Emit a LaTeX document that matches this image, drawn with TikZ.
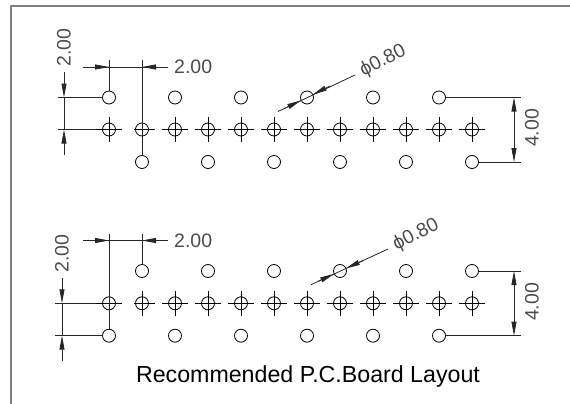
\documentclass[tikz,border=0pt]{standalone}
\usepackage{fontspec}
\setmainfont{Liberation Sans}
\usetikzlibrary{arrows.meta}
\begin{document}
\begin{tikzpicture}[x=1pt,y=-1pt,>={Stealth[length=14pt,width=5pt,inset=0pt]},line join=round,
	hole/.style={line width=0.8pt},
	dim/.style={line width=0.8pt,black!85},
	dimtext/.style={font=\fontsize{19.5}{20}\selectfont,inner sep=0pt,black!70}]
	\useasboundingbox (0,0) rectangle (570,404);
	\draw[line width=2pt,black!50] (570,6.5)--(11,6.5)--(11,404);
	% Upper layout
	\def\ya{97.5} \def\yb{129.5} \def\yc{162}
	\foreach \x in {109,175,241,307,373,439} \draw[hole] (\x,\ya) circle (6.5);
	\foreach \x in {142,208,274,340,406,472} \draw[hole] (\x,\yc) circle (6.5);
	\foreach \x in {109,142,...,472} {
		\draw[hole] (\x,\yb) circle (6.5);
		\draw[hole] (\x,\yb-12.5)--(\x,\yb+12.5);
		\draw[hole] (\x-13,\yb)--(\x+13,\yb);
	}
	\draw[white,line width=1.2pt] (128.5,\yb)--(134,\yb);
	\draw[dim] (83,67)--(168,67);
	\draw[dim,->] (83,67)--(109,67);
	\draw[dim,->] (168,67)--(142,67);
	\draw[dim] (109,60.5)--(109,91);
	\draw[dim] (142,60.5)--(142,155.5);
	\node[dimtext,anchor=west] (topa) at (174,67) {2.00};
	\draw[dim,->] (64,72)--(64,\ya);
	\draw[dim,->] (64,155)--(64,\yb);
	\draw[dim] (64,\ya)--(64,\yb);
	\draw[dim] (58,\ya)--(102.5,\ya);
	\draw[dim] (58,\yb)--(96,\yb);
	\node[dimtext,rotate=90] (lefta) at (64,47.5) {2.00};
	\draw[dim] (445.5,\ya)--(520.5,\ya);
	\draw[dim] (478.5,\yc)--(520.5,\yc);
	\draw[dim,->] (514,\yb)--(514,\ya);
	\draw[dim,->] (514,\yb)--(514,\yc);
	\node[dimtext,rotate=90] (righta) at (532,128) {4.00};
	\draw[dim] (278,111.5)--(355,75);
	\draw[dim,->] (285,108.2)--(301,100.4);
	\draw[dim,->] (330,86)--(313,94.4);
	\node[dimtext,rotate=27] (diaa) at (383,61) {ϕ0.80};
	% Lower layout
	\def\ya{271} \def\yb{303.3} \def\yc{335.7}
	\foreach \x in {142,208,274,340,406,472} \draw[hole] (\x,\ya) circle (6.5);
	\foreach \x in {109,175,241,307,373,439} \draw[hole] (\x,\yc) circle (6.5);
	\foreach \x in {109,142,...,472} {
		\draw[hole] (\x,\yb) circle (6.5);
		\draw[hole] (\x,\yb-12.5)--(\x,\yb+12.5);
		\draw[hole] (\x-13,\yb)--(\x+13,\yb);
	}
	\draw[white,line width=1.2pt] (128.5,\yb)--(134,\yb);
	\draw[dim] (83,240.5)--(168,240.5);
	\draw[dim,->] (83,240.5)--(109,240.5);
	\draw[dim,->] (168,240.5)--(142,240.5);
	\draw[dim] (109,234)--(109,329);
	\draw[dim] (142,234)--(142,264.5);
	\node[dimtext,anchor=west] (topb) at (174,240.5) {2.00};
	\draw[dim,->] (62,278)--(62,\yb);
	\draw[dim,->] (62,361)--(62,\yc);
	\draw[dim] (62,\yb)--(62,\yc);
	\draw[dim] (55,\yb)--(96,\yb);
	\draw[dim] (55,\yc)--(102.5,\yc);
	\node[dimtext,rotate=90] (leftb) at (62,253.5) {2.00};
	\draw[dim] (478.5,\ya)--(520.5,\ya);
	\draw[dim] (445.5,\yc)--(520.5,\yc);
	\draw[dim,->] (514,\yb)--(514,\ya);
	\draw[dim,->] (514,\yb)--(514,\yc);
	\node[dimtext,rotate=90] (rightb) at (532,302) {4.00};
	\draw[dim] (311,284.7)--(388,249);
	\draw[dim,->] (318,281.4)--(334,273.9);
	\draw[dim,->] (363,260.5)--(346,268.4);
	\node[dimtext,rotate=27] (diab) at (416,235) {ϕ0.80};
	\node[font=\fontsize{23.2}{24}\selectfont,inner sep=0pt] (title) at (308,376) {Recommended P.C.Board Layout};
\end{tikzpicture}
\end{document}
